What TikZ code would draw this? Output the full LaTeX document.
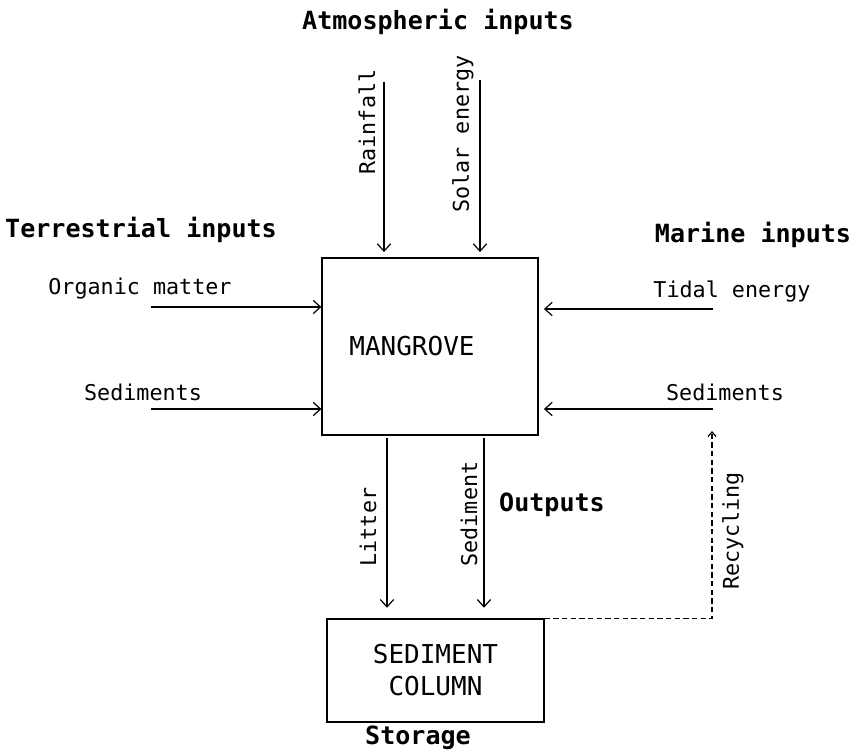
\documentclass[tikz,border=0pt]{standalone}
\usepackage{fontspec}
\usetikzlibrary{arrows.meta}
\setmainfont{DejaVu Sans Mono}
\begin{document}
\begin{tikzpicture}[x=0.75pt,y=-0.75pt,line width=0.9pt,
  >={Straight Barb[length=5.5pt,width=10pt,line width=0.9pt]},
  lbl/.style={font=\fontsize{16.3}{19}\selectfont},
  caps/.style={font=\fontsize{19.5}{24}\selectfont},
  head/.style={font=\fontsize{18.8}{22}\selectfont\bfseries},
  recyc/.style={dash pattern=on 4pt off 2.5pt,
    -{Straight Barb[length=3.5pt,width=6pt]}}]
  \useasboundingbox (0,0) rectangle (851,752);

  % Draw boxes
  \node[draw,minimum width=162pt,minimum height=132.75pt] (mangrove) at (430,346.5) {};
  \node[caps] (mangrovetxt) at (412,346) {MANGROVE};
  \node[draw,minimum width=162.75pt,minimum height=77.25pt,caps,align=center] (column) at (435.5,670.5) {SEDIMENT\\COLUMN};

  % Headings
  \node[head] (atmos) at (438,22) {Atmospheric inputs};
  \node[head] (terr) at (141,230) {Terrestrial inputs};
  \node[head] (marine) at (753,235) {Marine inputs};
  \node[head] (outputs) at (552,505) {Outputs};
  \node[head] (storage) at (418,738) {Storage};

  % Atmospheric inputs
  \coordinate (rain) at (384,82);
  \coordinate (solar) at (480,80);
  \draw[->,shorten >=4pt] (rain) -- (rain |- mangrove.north);
  \draw[->,shorten >=4pt] (solar) -- (solar |- mangrove.north);
  \node[lbl,rotate=90] (rainlbl) at (367,122) {Rainfall};
  \node[lbl,rotate=90] (solarlbl) at (463,134) {Solar energy};

  % Terrestrial inputs
  \coordinate (organic) at (151,307);
  \coordinate (tsed) at (151,409);
  \draw[->] (organic) -- (organic -| mangrove.west);
  \draw[->] (tsed) -- (tsed -| mangrove.west);
  \node[lbl] (organiclbl) at (140,289) {Organic matter};
  \node[lbl] (tsedlbl) at (143,392) {Sediments};

  % Marine inputs
  \coordinate (tidal) at (713,309);
  \coordinate (msed) at (713,409);
  \draw[->,shorten >=4pt] (tidal) -- (tidal -| mangrove.east);
  \draw[->,shorten >=4pt] (msed) -- (msed -| mangrove.east);
  \node[lbl] (tidallbl) at (732,292) {Tidal energy};
  \node[lbl] (msedlbl) at (725,392) {Sediments};

  % Outputs
  \coordinate (litter) at (387,438);
  \coordinate (osed) at (484,438);
  \draw[->,shorten >=8pt] (litter) -- (litter |- column.north);
  \draw[->,shorten >=8pt] (osed) -- (osed |- column.north);
  \node[lbl,rotate=90] (litterlbl) at (368,527) {Litter};
  \node[lbl,rotate=90] (osedlbl) at (469,514) {Sediment};

  % Recycling
  \coordinate (recycle) at (712,431);
  \draw[recyc] (column.north east) -- (column.north east -| recycle) -- (recycle);
  \node[lbl,rotate=90] (recyclelbl) at (733,531) {Recycling};
\end{tikzpicture}
\end{document}
